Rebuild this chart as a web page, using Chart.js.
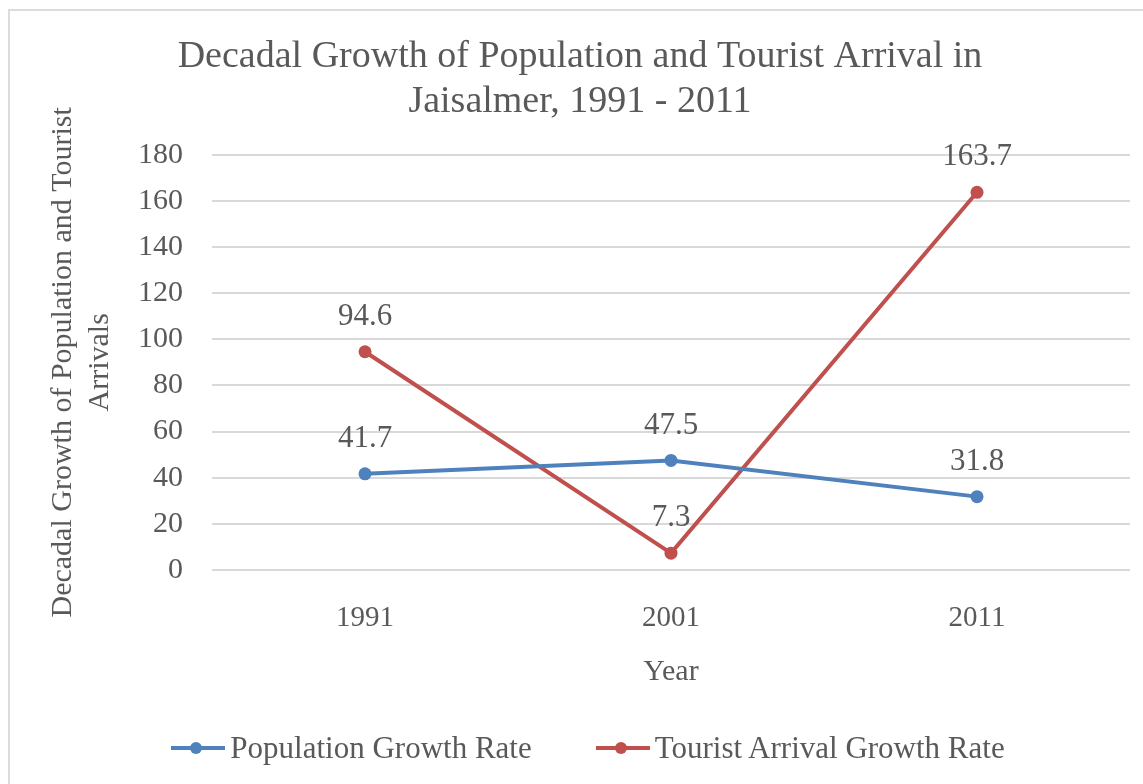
<!DOCTYPE html>
<html>
<head>
<meta charset="utf-8">
<title>Decadal Growth of Population and Tourist Arrival in Jaisalmer</title>
<script src="https://cdn.jsdelivr.net/npm/chart.js@4.4.1/dist/chart.umd.min.js"></script>
<style>
  html, body { margin: 0; padding: 0; background: #fff; }
  #wrap { position: relative; width: 1143px; height: 784px; overflow: hidden; }
  #frame {
    position: absolute; left: 8px; top: 9px; width: 1200px; height: 800px;
    border-left: 2px solid #dcdcdc; border-top: 2px solid #dcdcdc;
  }
  #chart { position: absolute; left: 0; top: 0; }
  #legend {
    position: absolute; left: 32px; right: 0; top: 728px; height: 40px;
    display: flex; justify-content: center; align-items: center; gap: 63px;
    font-family: "Liberation Serif", "Times New Roman", serif; font-size: 31px; color: #595959;
  }
  .item { display: flex; align-items: center; white-space: nowrap; }
  .item canvas { margin-right: 4px; }
</style>
</head>
<body>
<div id="wrap">
  <div id="frame"></div>
  <canvas id="chart" width="1143" height="784"></canvas>
  <div id="legend"></div>
</div>
<script>
// Data
const years = ["1991", "2001", "2011"];
const populationGrowth = [41.7, 47.5, 31.8];
const touristGrowth = [94.6, 7.3, 163.7];
const seriesNames = ["Population Growth Rate", "Tourist Arrival Growth Rate"];
const seriesColors = ["#4f81bd", "#c0504d"];

const textColor = "#595959";
const serif = "'Liberation Serif', 'Times New Roman', serif";

// draws the value above every point, like Excel's "Above" data labels
const valueLabels = {
  id: "valueLabels",
  afterDatasetsDraw(chart) {
    const ctx = chart.ctx;
    ctx.save();
    ctx.font = "31px " + serif;
    ctx.fillStyle = textColor;
    ctx.textAlign = "center";
    ctx.textBaseline = "middle";
    chart.data.datasets.forEach((ds, i) => {
      chart.getDatasetMeta(i).data.forEach((pt, j) => {
        ctx.fillText(ds.data[j].toFixed(1), pt.x, pt.y - 35);
      });
    });
    ctx.restore();
  }
};

const ctx = document.getElementById("chart").getContext("2d");
const chart = new Chart(ctx, {
  type: "line",
  data: {
    labels: years,
    datasets: [
      {
        label: seriesNames[0],
        data: populationGrowth,
        borderColor: seriesColors[0],
        backgroundColor: seriesColors[0],
      },
      {
        label: seriesNames[1],
        data: touristGrowth,
        borderColor: seriesColors[1],
        backgroundColor: seriesColors[1],
      },
    ],
  },
  options: {
    responsive: false,
    animation: false,
    layout: { padding: { left: 30, right: 13, top: 10, bottom: 70 } },
    elements: {
      line: { borderWidth: 4, tension: 0 },
      point: { radius: 6.5, borderWidth: 0, hoverRadius: 6.5 },
    },
    plugins: {
      legend: { display: false },
      tooltip: { enabled: false },
      title: {
        display: true,
        text: ["Decadal Growth of Population and Tourist Arrival in", "Jaisalmer, 1991 - 2011"],
        color: textColor,
        font: { family: serif, size: 38, weight: "normal", lineHeight: 1.18 },
        padding: { top: 25, bottom: 30 },
      },
    },
    scales: {
      x: {
        offset: true,
        grid: { display: false, drawTicks: false },
        border: { display: false },
        ticks: { color: textColor, font: { family: serif, size: 29 }, padding: 31 },
        title: {
          display: true,
          text: "Year",
          color: textColor,
          font: { family: serif, size: 30 },
          padding: { top: 0, bottom: 24 },
        },
        afterFit(scale) { scale.height = 144; },
      },
      y: {
        min: 0,
        max: 180,
        ticks: { stepSize: 20, color: textColor, font: { family: serif, size: 30 }, padding: 29 },
        grid: { color: "#d9d9d9", lineWidth: 2, drawTicks: false },
        border: { display: false },
        title: {
          display: true,
          text: ["Decadal Growth of Population and Tourist", "Arrivals"],
          color: textColor,
          font: { family: serif, size: 30, lineHeight: 1.23 },
          padding: { top: 15, bottom: 0 },
        },
        afterFit(scale) { scale.width = 182; },
      },
    },
  },
  plugins: [valueLabels],
});

// HTML legend: a short line with a dot, then the series name
const legend = document.getElementById("legend");
chart.data.datasets.forEach((ds) => {
  const item = document.createElement("div");
  item.className = "item";
  const icon = document.createElement("canvas");
  icon.width = 56;
  icon.height = 16;
  const g = icon.getContext("2d");
  g.strokeStyle = ds.borderColor;
  g.lineWidth = 4;
  g.beginPath();
  g.moveTo(1, 8);
  g.lineTo(55, 8);
  g.stroke();
  g.fillStyle = ds.borderColor;
  g.beginPath();
  g.arc(26, 8, 6, 0, Math.PI * 2);
  g.fill();
  const span = document.createElement("span");
  span.textContent = ds.label;
  item.appendChild(icon);
  item.appendChild(span);
  legend.appendChild(item);
});
</script>
</body>
</html>
